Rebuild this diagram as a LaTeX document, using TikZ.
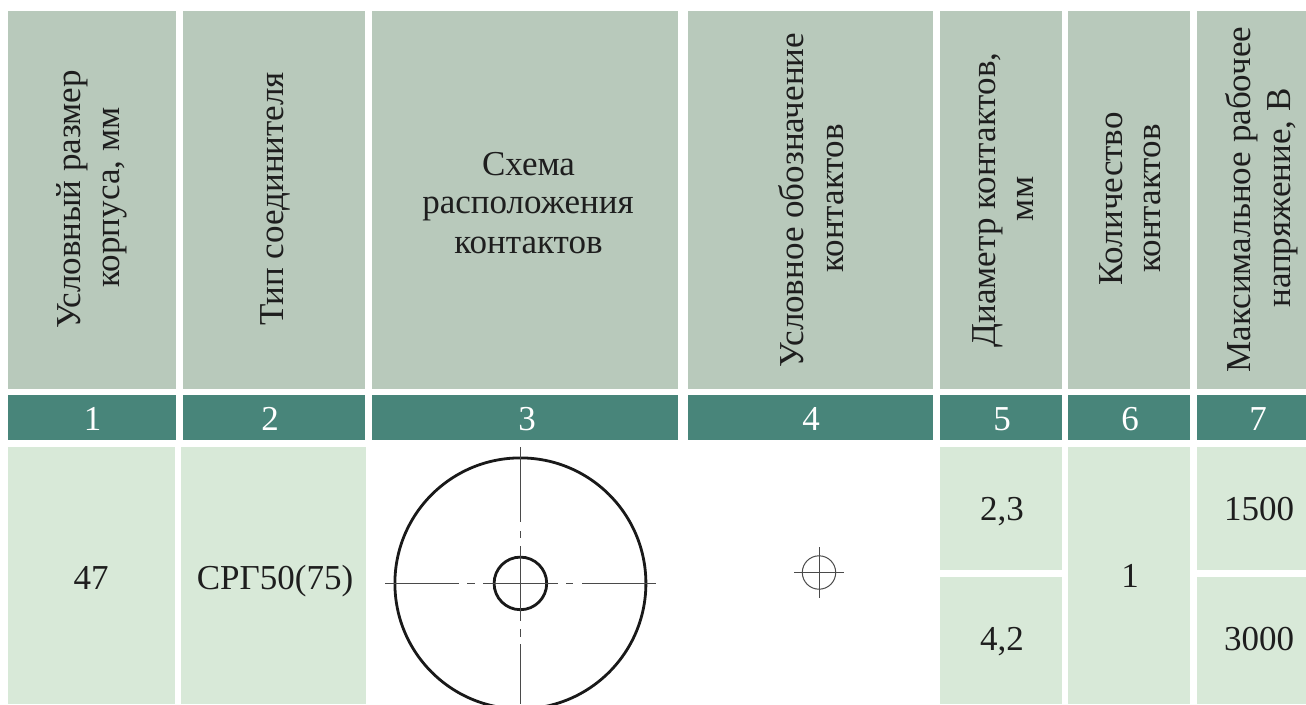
\documentclass[tikz,border=0pt]{standalone}
\usepackage{fontspec}
\setmainfont{Liberation Serif}
\definecolor{headc}{HTML}{B8C9BB}
\definecolor{numc}{HTML}{48857A}
\definecolor{bodyc}{HTML}{D8E9D8}
\definecolor{inkc}{HTML}{1E1E1E}
\definecolor{linec}{HTML}{4A4A4A}
\tikzset{x=1pt,y=-1pt,
 cellbase/.style={inner sep=0pt,outer sep=0pt,anchor=base,text=inkc,font=\fontsize{35}{40}\selectfont},
 rot/.style={cellbase,rotate=90},
 numtext/.style={cellbase,text=white},
 heavy/.style={line width=2.8pt,black!90},
 axis/.style={line width=1.2pt,linec}}
\newcommand{\headrect}[2]{\fill[headc] (#1,11) rectangle (#2,389);}
\newcommand{\numrect}[2]{\fill[numc] (#1,395) rectangle (#2,440);}
\begin{document}
\begin{tikzpicture}
\useasboundingbox (0,0) rectangle (1306,704);
\fill[white] (0,0) rectangle (1306,704);
\headrect{8}{176}\headrect{183}{365}\headrect{372}{678}\headrect{688}{933}\headrect{940}{1062}\headrect{1068}{1190}\headrect{1197}{1306}
\numrect{8}{176}\numrect{183}{365}\numrect{372}{678}\numrect{688}{933}\numrect{940}{1062}\numrect{1068}{1190}\numrect{1197}{1306}
\node[rot] (h1a) at (80,199.5) {Условный размер};
\node[rot] (h1b) at (119,197.5) {корпуса, мм};
\node[rot] (h2) at (283,199) {Тип соединителя};
\node[cellbase] (h3a) at (528.5,175) {Схема};
\node[cellbase] (h3b) at (528,213.5) {расположения};
\node[cellbase] (h3c) at (528.5,253) {контактов};
\node[rot] (h4a) at (803,200) {Условное обозначение};
\node[rot] (h4b) at (843,198.5) {контактов};
\node[rot] (h5a) at (995,200) {Диаметр контактов,};
\node[rot] (h5b) at (1033,199) {мм};
\node[rot] (h6a) at (1122,199) {Количество};
\node[rot] (h6b) at (1160,198.5) {контактов};
\node[rot] (h7a) at (1250.7,199.5) {Максимальное рабочее};
\node[rot] (h7b) at (1290,198) {напряжение, В};
\node[numtext] (n1) at (92.5,430) {1};
\node[numtext] (n2) at (270,430) {2};
\node[numtext] (n3) at (527,430) {3};
\node[numtext] (n4) at (811,430) {4};
\node[numtext] (n5) at (1002,430) {5};
\node[numtext] (n6) at (1130,430) {6};
\node[numtext] (n7) at (1258,430) {7};
\fill[bodyc] (8,447) rectangle (175,704);
\fill[bodyc] (181,447) rectangle (366,704);
\fill[bodyc] (940,447) rectangle (1062,570);
\fill[bodyc] (940,577) rectangle (1062,704);
\fill[bodyc] (1068,447) rectangle (1190,704);
\fill[bodyc] (1197,447) rectangle (1306,570);
\fill[bodyc] (1197,577) rectangle (1306,704);
\node[cellbase] (b1) at (91,589) {47};
\node[cellbase] (b2) at (275,589) {СРГ50(75)};
\node[cellbase] (b5a) at (1002,520) {2,3};
\node[cellbase] (b5b) at (1002,650) {4,2};
\node[cellbase] (b6) at (1130,587) {1};
\node[cellbase] (b7a) at (1259,520) {1500};
\node[cellbase] (b7b) at (1259,650) {3000};
\begin{scope}
\clip (372,447) rectangle (688,704);
\draw[heavy] (520.4,583.4) circle (125.5);
\draw[heavy] (520.4,583.4) circle (26.3);
\draw[axis] (385,583.4) -- (459,583.4) (467,583.4) -- (475,583.4) (483,583.4) -- (558,583.4) (566,583.4) -- (573,583.4) (582,583.4) -- (656,583.4);
\draw[axis] (520.4,447) -- (520.4,522) (520.4,531) -- (520.4,538) (520.4,546) -- (520.4,621) (520.4,629) -- (520.4,637) (520.4,644) -- (520.4,704);
\end{scope}
\draw[line width=1pt,linec] (819,572.5) circle (16.7);
\draw[line width=1pt,linec] (794,572.5) -- (844,572.5) (819,547) -- (819,598);
\end{tikzpicture}
\end{document}
